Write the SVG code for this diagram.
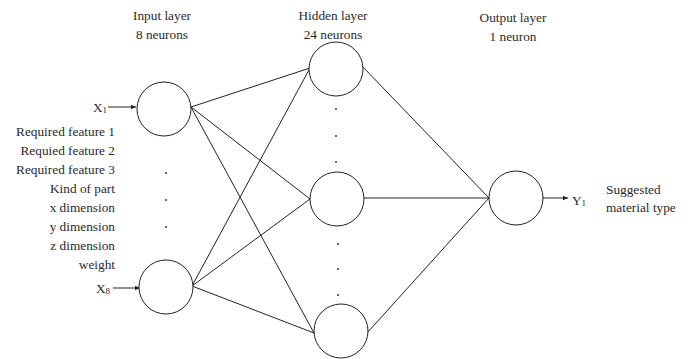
<svg xmlns="http://www.w3.org/2000/svg" width="688" height="359" viewBox="0 0 688 359">
<style>
text{font-family:"Liberation Serif","Times New Roman",serif;font-size:13.3px;fill:#2a2a2a}
.n{fill:#fff;stroke:#222;stroke-width:1}
.c line{stroke:#222;stroke-width:1}
.r{text-anchor:end}
.m{text-anchor:middle}
.d{fill:#222}
</style>
<defs>
<marker id="ah" markerWidth="6" markerHeight="6" refX="5" refY="3" orient="auto" markerUnits="userSpaceOnUse">
<path d="M0,0.8 L5,3 L0,5.2 Z" fill="#222"/>
</marker>
</defs>
<rect width="688" height="359" fill="#fff"/>
<g id="headers">
<text class="m" x="162" y="20">Input layer</text>
<text class="m" x="162" y="39">8 neurons</text>
<text class="m" x="333" y="20">Hidden layer</text>
<text class="m" x="333" y="39">24 neurons</text>
<text class="m" x="513" y="22">Output layer</text>
<text class="m" x="513" y="41">1 neuron</text>
</g>
<g class="c" id="connectors">
<line x1="191" y1="107" x2="310" y2="68"/>
<line x1="191" y1="107" x2="310" y2="199"/>
<line x1="191" y1="107" x2="314" y2="333"/>
<line x1="192" y1="286" x2="310" y2="68"/>
<line x1="192" y1="286" x2="310" y2="199"/>
<line x1="192" y1="286" x2="314" y2="333"/>
<line x1="362" y1="66" x2="489" y2="198"/>
<line x1="364" y1="198" x2="489" y2="198"/>
<line x1="367" y1="333" x2="489" y2="198"/>
<line x1="108" y1="107" x2="136" y2="107" marker-end="url(#ah)"/>
<line x1="113" y1="288" x2="140" y2="288" marker-end="url(#ah)"/>
<line x1="542" y1="198" x2="568" y2="198" marker-end="url(#ah)"/>
</g>
<g id="in1"><circle class="n" cx="164" cy="109" r="27"/></g>
<g id="in8"><circle class="n" cx="166" cy="287" r="27"/></g>
<g id="h1"><circle class="n" cx="336" cy="69" r="27"/></g>
<g id="h2"><circle class="n" cx="337" cy="199" r="27"/></g>
<g id="h3"><circle class="n" cx="341" cy="331" r="27"/></g>
<g id="out"><circle class="n" cx="516" cy="198" r="27"/></g>
<g id="dots">
<circle class="d" cx="166" cy="173" r="0.9"/>
<circle class="d" cx="166" cy="200" r="0.9"/>
<circle class="d" cx="166" cy="227" r="0.9"/>
<circle class="d" cx="336" cy="109" r="0.9"/>
<circle class="d" cx="336" cy="136" r="0.9"/>
<circle class="d" cx="336" cy="162" r="0.9"/>
<circle class="d" cx="338" cy="244" r="0.9"/>
<circle class="d" cx="338" cy="269" r="0.9"/>
<circle class="d" cx="338" cy="295" r="0.9"/>
</g>
<g id="labels">
<text x="93" y="112">X<tspan font-size="9" dy="1">1</tspan></text>
<text x="96" y="293">X<tspan font-size="9" dy="1">8</tspan></text>
<text class="r" x="115" y="136">Required feature 1</text>
<text class="r" x="115" y="155">Requied feature 2</text>
<text class="r" x="115" y="174">Required feature 3</text>
<text class="r" x="115" y="193">Kind of part</text>
<text class="r" x="115" y="212">x dimension</text>
<text class="r" x="115" y="231">y dimension</text>
<text class="r" x="115" y="250">z dimension</text>
<text class="r" x="115" y="269">weight</text>
<text x="572" y="205">Y<tspan font-size="9" dy="1">1</tspan></text>
<text x="606" y="194">Suggested</text>
<text x="606" y="212">material type</text>
</g>
</svg>
